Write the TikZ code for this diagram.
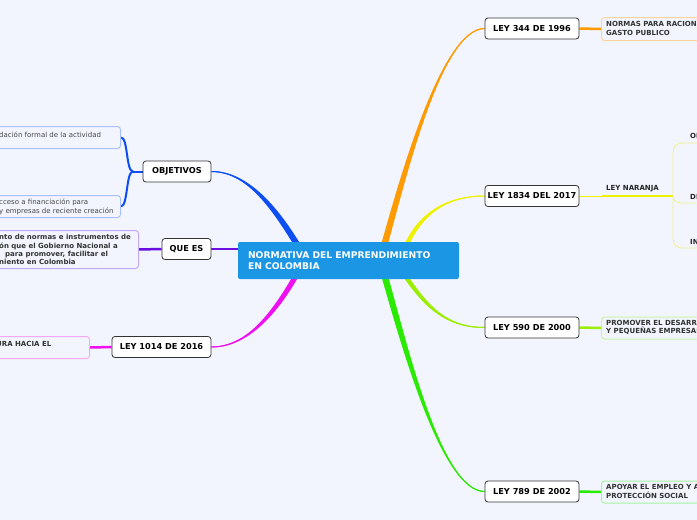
\documentclass[tikz,border=0pt]{standalone}
\usepackage{fontspec}
\setmainfont{DejaVu Sans}
\usetikzlibrary{calc}
\pgfdeclarelayer{bgfill}
\pgfdeclarelayer{lines}
\pgfsetlayers{bgfill,lines,main}
\definecolor{bg}{HTML}{F2F5FE}
\definecolor{rootc}{HTML}{1B96E4}
\definecolor{cBlue}{HTML}{0D4DF2}
\definecolor{cPurple}{HTML}{6A0FE0}
\definecolor{cMag}{HTML}{EE10EE}
\definecolor{cOr}{HTML}{FF9A00}
\definecolor{cYel}{HTML}{EEF200}
\definecolor{cLg}{HTML}{9CEE00}
\definecolor{cGr}{HTML}{2AEA00}
\definecolor{cBlueL}{HTML}{A9C1F8}
\definecolor{cPurpleL}{HTML}{C3A8F5}
\definecolor{cMagL}{HTML}{F6A8F6}
\definecolor{cOrL}{HTML}{FFD49A}
\definecolor{cLgL}{HTML}{CBF2A6}
\definecolor{cGrL}{HTML}{A6F2A0}
\definecolor{cYelL}{HTML}{F0F28A}
\definecolor{txt}{HTML}{333333}
% tapered connector: color, A, C1, C2, B, half width at A, half width at B
\newcommand\taperline[7]{%
  \coordinate (tA1) at ($(#2)!#6!90:(#3)$);
  \coordinate (tA2) at ($(#2)!#6!-90:(#3)$);
  \coordinate (tB1) at ($(#5)!#7!-90:(#4)$);
  \coordinate (tB2) at ($(#5)!#7!90:(#4)$);
  \fill[#1] (tA1) .. controls ($(#3)+(tA1)-(#2)$) and ($(#4)+(tB1)-(#5)$) .. (tB1)
    -- (tB2) .. controls ($(#4)+(tB2)-(#5)$) and ($(#3)+(tA2)-(#2)$) .. (tA2) -- cycle;
  \draw[#1, line width=1pt] (#2) .. controls (#3) and (#4) .. (#5);
}
\begin{document}
\begin{tikzpicture}[x=1pt,y=-1pt,
  mainbox/.style={draw=black!80, fill=white, rounded corners=3pt, line width=0.8pt,
    minimum height=21pt, inner sep=0pt, font=\fontsize{8.2}{9.8}\selectfont\bfseries, text=black},
  rootbox/.style={fill=rootc, rounded corners=2pt, minimum width=221pt, minimum height=37pt,
    text width=201pt, inner xsep=10pt, inner ysep=0pt, align=left,
    font=\fontsize{9.2}{11}\selectfont\bfseries, text=white},
  leafbox/.style={rounded corners=3pt, line width=1pt, fill=bg, inner sep=0pt, anchor=north west},
  leaftext/.style={inner sep=0pt, anchor=west, align=left, text=txt,
    font=\fontsize{7}{8.5}\selectfont\bfseries},
  leafreg/.style={inner sep=0pt, anchor=west, align=left, text=txt!90,
    font=\fontsize{7}{9}\selectfont},
]
\useasboundingbox (0,0) rectangle (697,520);
\begin{pgfonlayer}{bgfill}
\fill[bg] (0,0) rectangle (697,520);
\end{pgfonlayer}
\clip (0,0) rectangle (697,520);

% ---------- nodes ----------
\node[rootbox] (root) at (348.5,260.5) {NORMATIVA DEL EMPRENDIMIENTO\\EN COLOMBIA};

\node[mainbox, minimum width=68pt] (obj) at (177,171.5) {OBJETIVOS};
\node[mainbox, minimum width=49pt] (que) at (186.5,249) {QUE ES};
\node[mainbox, minimum width=99pt] (l1014) at (161.5,347) {LEY 1014 DE 2016};
\node[mainbox, minimum width=94pt] (l344) at (532,28.5) {LEY 344 DE 1996};
\node[mainbox, minimum width=94pt] (l1834) at (532,196) {LEY 1834 DEL 2017};
\node[mainbox, minimum width=94pt] (l590) at (532,327.5) {LEY 590 DE 2000};
\node[mainbox, minimum width=94pt] (l789) at (532,491.5) {LEY 789 DE 2002};

% leaf boxes
\node[leafbox, draw=cBlueL, minimum width=140pt, minimum height=22pt] (ob1) at (-20,126) {};
\node[leafbox, draw=cBlueL, minimum width=140pt, minimum height=22pt] (ob2) at (-20,195) {};
\node[leafbox, draw=cPurpleL, minimum width=158pt, minimum height=38pt] (qe1) at (-20,230) {};
\node[leafbox, draw=cMagL, minimum width=109pt, minimum height=22pt] (le1) at (-20,336) {};
\node[leafbox, draw=cOrL, minimum width=120pt, minimum height=23pt] (n1) at (601,17) {};
\node[leafbox, draw=cLgL, minimum width=120pt, minimum height=22pt] (p1) at (601,316.5) {};
\node[leafbox, draw=cGrL, minimum width=120pt, minimum height=22pt] (a1) at (601,480.5) {};

% leaf texts
\node[leafreg] (ob1t) at (-1,134.5) {dación formal de la actividad};
\node[leafreg] (ob2t) at (-1,206.5) {cceso a financiación para\\y empresas de reciente creación};
\node[leaftext, font=\fontsize{7}{8.1}\selectfont\bfseries] (qe1t) at (-1,249.5)
  {nto de normas e instrumentos de\\ón que el Gobierno Nacional a\\\hspace{6pt}para promover, facilitar el\\niento en Colombia};
\node[leaftext] (le1t) at (-4,344) {URA HACIA EL};
\node[leaftext] (n1t) at (606,28.5) {NORMAS PARA RACION\\GASTO PUBLICO};
\node[leaftext] (p1t) at (606,327.5) {PROMOVER EL DESARR\\Y PEQUEÑAS EMPRESAS};
\node[leaftext] (a1t) at (606,491.5) {APOYAR EL EMPLEO Y A\\PROTECCIÓN SOCIAL};

% ley naranja
\node[leaftext, anchor=center, text=black!85] (nar) at (632.5,189) {LEY NARANJA};
\node[leaftext, text=black!85] (o1) at (690,136) {OB};
\node[leaftext, text=black!85] (o2) at (690,197) {DE};
\node[leaftext, text=black!85] (o3) at (690,242) {IN};

% ---------- connectors ----------
\coordinate (bA) at (298,246);
\coordinate (mA) at (297,274);
\coordinate (oA) at (384,246);
\coordinate (yA) at (406,246);
\coordinate (gA) at (404,274);
\coordinate (GA) at (384,274);
\coordinate (pA) at (242,249);
\coordinate (nar0) at (602,196);
\coordinate (nar1) at (673,196);
\coordinate (objj) at (133,171.5);
\coordinate (u1) at (700,143);
\coordinate (u2) at (700,203);
\coordinate (u3) at (700,248);

\begin{pgfonlayer}{lines}
\taperline{cBlue}{bA}{272,203}{245,171.5}{obj.east}{3pt}{0.5pt}
\taperline{cMag}{mA}{272,318}{245,347}{l1014.east}{2.6pt}{0.5pt}
\taperline{cOr}{oA}{400,190}{440,28.5}{l344.west}{3.2pt}{0.5pt}
\taperline{cYel}{yA}{420,215}{445,196}{l1834.west}{2.2pt}{0.5pt}
\taperline{cLg}{gA}{425,305}{445,327.5}{l590.west}{2.2pt}{0.5pt}
\taperline{cGr}{GA}{402,335}{440,491.5}{l789.west}{3.2pt}{0.5pt}
\draw[cPurple, line width=1.3pt] (pA) -- (que.east);

% second level
\draw[cBlue, line width=2pt] (obj.west) -- (objj);
\draw[cBlue, line width=2pt] (objj) .. controls (126,171.5) and (128,137) .. (ob1.east);
\draw[cBlue, line width=2pt] (objj) .. controls (126,171.5) and (128,206) .. (ob2.east);
\draw[cPurple, line width=2.5pt] (que.west) -- (qe1.east);
\draw[cMag, line width=2.5pt] (l1014.west) -- (le1.east);
\draw[cOr, line width=2.5pt] (l344.east) -- (n1.west);
\draw[cLg, line width=2.5pt] (l590.east) -- (p1.west);
\draw[cGr, line width=2.5pt] (l789.east) -- (a1.west);

\draw[cYel, line width=0.8pt] (l1834.east) -- (nar0);
\draw[cYel, line width=2pt] (nar0) -- (nar1);
\draw[cYelL, line width=0.8pt] (nar1) -- (673,153) .. controls (673,146) and (676,143) .. (684,143) -- (u1);
\draw[cYelL, line width=0.8pt] (nar1) .. controls (673,201) and (676,203) .. (684,203) -- (u2);
\draw[cYelL, line width=0.8pt] (nar1) -- (673,238) .. controls (673,245) and (676,248) .. (684,248) -- (u3);
\end{pgfonlayer}

\end{tikzpicture}
\end{document}
